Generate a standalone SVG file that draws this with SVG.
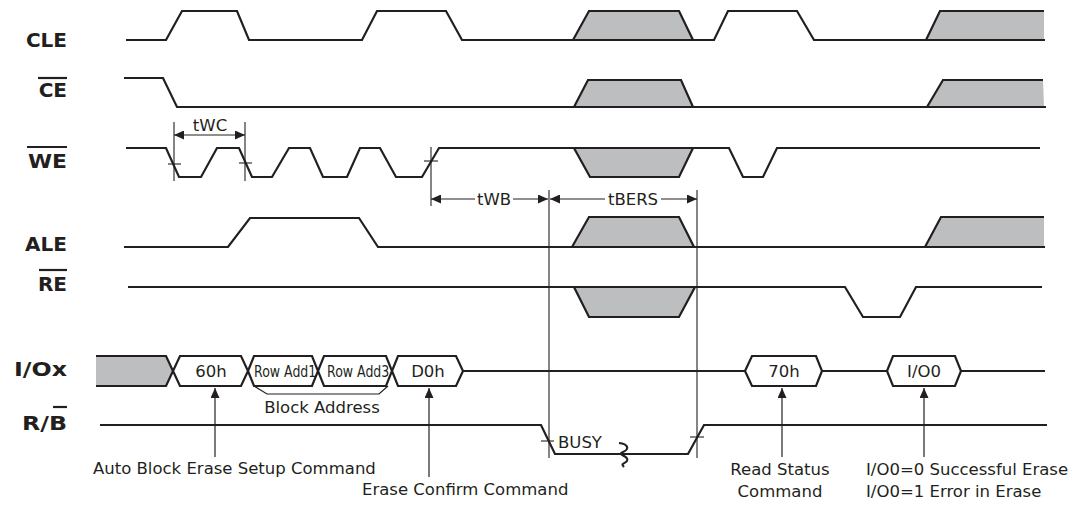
<svg xmlns="http://www.w3.org/2000/svg" width="1079" height="505" viewBox="0 0 1079 505">
<defs>
<style>
.sig{fill:none;stroke:#231f20;stroke-width:2.2;stroke-linejoin:miter}
.gr{fill:#bcbec0;stroke:#231f20;stroke-width:2.2}
.grf{fill:#bcbec0;stroke:none}
.lbl{font-family:"DejaVu Sans",sans-serif;font-weight:bold;font-size:20px;fill:#231f20;text-anchor:end}
.ol{stroke:#231f20;stroke-width:2.2}
.t{font-family:"DejaVu Sans",sans-serif;font-size:16.5px;fill:#231f20}
.m{text-anchor:middle}
.dim{fill:none;stroke:#231f20;stroke-width:1.1}
.arr{fill:none;stroke:#231f20;stroke-width:1.2}
.hex{fill:#fff;stroke:#231f20;stroke-width:2.2}
</style>
<marker id="ah" markerUnits="userSpaceOnUse" markerWidth="11" markerHeight="9" refX="10" refY="4.5" orient="auto"><path d="M0,0 L10,4.5 L0,9 z" fill="#231f20"/></marker>
</defs>
<rect width="1079" height="505" fill="#fff"/>

<g id="sig-cle">
<text class="lbl" x="67" y="47">CLE</text>
<polygon class="gr" points="573,40 589,11 679,11 693,40"/>
<polygon class="grf" points="926,40 940,11 1044,11 1044,40"/>
<polyline class="sig" points="926,40 940,11 1044,11"/>
<polyline class="sig" points="126,40 166,40 182,11 237,11 249,40 362,40 377,11 446,11 462,40 714,40 728,11 797,11 814,40 1045,40"/>
</g>

<g id="sig-ce">
<text class="lbl" x="67" y="97">CE</text>
<line class="ol" x1="38" y1="78" x2="67" y2="78"/>
<polygon class="gr" points="574,107 588,80 681,80 693,107"/>
<polygon class="grf" points="927,107 943,80 1043,80 1044,107"/>
<polyline class="sig" points="927,107 943,80 1043,80"/>
<polyline class="sig" points="124,78 163,78 177,107 1046,107"/>
</g>

<g id="sig-we">
<text class="lbl" x="67" y="168" textLength="39" lengthAdjust="spacingAndGlyphs">WE</text>
<line class="ol" x1="27" y1="147" x2="67" y2="147"/>
<polygon class="gr" points="574,148 693,148 679,177 590,177"/>
<polyline class="sig" points="126,148 166,148 179,177 201,177 217,148 239,148 252,177 272,177 289,148 310,148 323,177 347,177 360,148 380,148 396,177 422,177 439,148 729,148 743,177 763,177 777,148 1040,148"/>
</g>

<g id="sig-ale">
<text class="lbl" x="67" y="251">ALE</text>
<polygon class="gr" points="572,247 589,217 679,217 694,247"/>
<polygon class="grf" points="925,247 941,217 1044,217 1044,247"/>
<polyline class="sig" points="925,247 941,217 1044,217"/>
<polyline class="sig" points="124,247 228,247 250,218 359,218 378,247 1045,247"/>
</g>

<g id="sig-re">
<text class="lbl" x="67" y="291">RE</text>
<line class="ol" x1="39" y1="270" x2="67" y2="270"/>
<polygon class="gr" points="574,287 695,287 679,317 589,317"/>
<polyline class="sig" points="128,287 845,287 863,317 900,317 916,287 1042,287"/>
</g>

<g id="sig-io">
<text class="lbl" x="67" y="376" textLength="53" lengthAdjust="spacingAndGlyphs">I/Ox</text>
<polygon class="grf" points="96,356 166,356 173,371 166,386 96,386"/>
<polyline class="sig" points="96,356 166,356 173,371 166,386 96,386"/>
<polygon class="hex" points="173,371 180,356 241,356 248,371 241,386 180,386"/>
<text class="t m" x="211" y="377">60h</text>
<polygon class="hex" points="248,371 254,356 312,356 318,371 312,386 254,386"/>
<text class="t" font-size="15" transform="translate(254,377) scale(0.76,1)">Row Add1</text>
<polygon class="hex" points="318,371 324,356 386,356 392,371 386,386 324,386"/>
<text class="t" font-size="15" transform="translate(327,377) scale(0.76,1)">Row Add3</text>
<polygon class="hex" points="392,371 398,356 456,356 463,371 456,386 398,386"/>
<text class="t m" x="428" y="377">D0h</text>
<line class="sig" x1="463" y1="371" x2="745" y2="371"/>
<polygon class="hex" points="745,371 752,356 816,356 822,371 816,386 752,386"/>
<text class="t m" x="784" y="377">70h</text>
<line class="sig" x1="822" y1="371" x2="887" y2="371"/>
<polygon class="hex" points="887,371 893,356 955,356 961,371 955,386 893,386"/>
<text class="t m" x="924" y="377">I/O0</text>
<line class="sig" x1="961" y1="371" x2="1045" y2="371"/>
<polyline class="arr" points="254,386 267,394 379,394 388,386"/>
<text class="t m" x="322" y="413">Block Address</text>
</g>

<g id="sig-rb">
<text class="lbl" x="67" y="430" textLength="45" lengthAdjust="spacingAndGlyphs">R/B</text>
<line class="ol" x1="53" y1="407" x2="67" y2="407"/>
<polyline class="sig" points="100,425 541,425 555,454 688,454 704,425 1047,425"/>
<path class="sig" stroke-width="2.2" d="M619,443 C628,444 630,449 623,452 C616,455 630,456 627,461 C625,464 620,463 624,467"/>
<text class="t" x="558" y="448">BUSY</text>
</g>

<g id="connectors">
<line class="dim" x1="174" y1="122" x2="174" y2="181"/>
<line class="dim" x1="245" y1="122" x2="245" y2="181"/>
<line class="dim" x1="431" y1="147" x2="431" y2="206"/>
<line class="dim" x1="549" y1="190" x2="549" y2="458"/>
<line class="dim" x1="697" y1="190" x2="697" y2="458"/>
<line class="dim" x1="168" y1="164" x2="181" y2="164"/>
<line class="dim" x1="239" y1="163" x2="252" y2="163"/>
<line class="dim" x1="424" y1="161" x2="438" y2="161"/>
<line class="dim" x1="541" y1="441" x2="554" y2="441"/>
<line class="dim" x1="690" y1="437" x2="704" y2="437"/>
<line class="arr" x1="210" y1="135" x2="174" y2="135" marker-end="url(#ah)"/>
<line class="arr" x1="210" y1="135" x2="245" y2="135" marker-end="url(#ah)"/>
<line class="arr" x1="475" y1="199" x2="431" y2="199" marker-end="url(#ah)"/>
<line class="arr" x1="513" y1="199" x2="548" y2="199" marker-end="url(#ah)"/>
<line class="arr" x1="605" y1="199" x2="550" y2="199" marker-end="url(#ah)"/>
<line class="arr" x1="661" y1="199" x2="697" y2="199" marker-end="url(#ah)"/>
<line class="arr" x1="215" y1="457" x2="215" y2="388" marker-end="url(#ah)"/>
<line class="arr" x1="429" y1="477" x2="429" y2="388" marker-end="url(#ah)"/>
<line class="arr" x1="782" y1="457" x2="782" y2="388" marker-end="url(#ah)"/>
<line class="arr" x1="924" y1="457" x2="924" y2="388" marker-end="url(#ah)"/>
</g>

<g id="annotations">
<text class="t m" x="210" y="131">tWC</text>
<text class="t m" x="494" y="205">tWB</text>
<text class="t m" x="633" y="205">tBERS</text>
<text class="t" x="93" y="474">Auto Block Erase Setup Command</text>
<text class="t" x="362" y="495">Erase Confirm Command</text>
<text class="t m" x="780" y="475">Read Status</text>
<text class="t m" x="780" y="497">Command</text>
<text class="t" x="866" y="475">I/O0=0 Successful Erase</text>
<text class="t" x="866" y="497">I/O0=1 Error in Erase</text>
</g>
</svg>
